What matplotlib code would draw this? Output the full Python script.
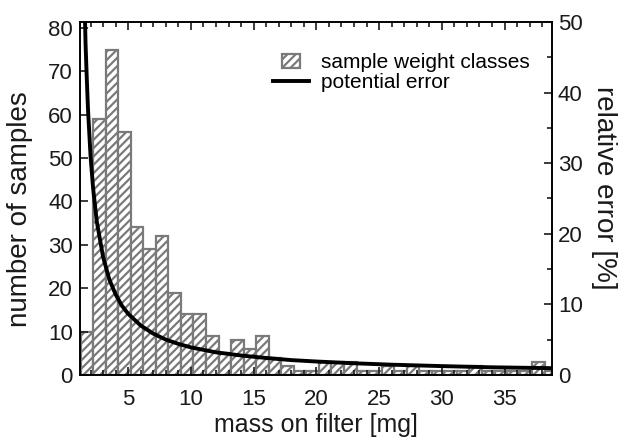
import numpy as np
import matplotlib
matplotlib.use('Agg')
import matplotlib.pyplot as plt
import matplotlib.patches as mpatches
from matplotlib.legend_handler import HandlerPatch
from matplotlib.ticker import MultipleLocator

plt.rcParams['font.family'] = ['Liberation Sans', 'DejaVu Sans']
plt.rcParams['hatch.linewidth'] = 1.6

# weight classes (left edge of each 1 mg class) and counts
class_left = np.arange(1.2, 39.2, 1.0)
counts = [10, 59, 75, 56, 34, 29, 32, 19, 14, 14,
          9, 5, 8, 6, 9, 4, 2, 1, 1, 3,
          3, 3, 1, 1, 2, 1, 2, 1, 1, 1,
          1, 2, 1, 1, 1, 1, 3, 1]

# potential error curve
err_mass = [1.5, 1.6, 1.7, 1.8, 2.0, 2.2, 2.5, 3.0, 3.5, 4.0, 4.5, 5, 6, 7, 8,
            9, 10, 12, 14, 16, 18, 20, 23, 26, 30, 34, 39]
err_pct = [55, 47, 42, 37.5, 31, 26.5, 21.7, 16.7, 13.5, 11.4, 9.8, 8.65, 7.0,
           5.85, 5.0, 4.4, 3.9, 3.2, 2.75, 2.4, 2.1, 1.9, 1.65, 1.45, 1.25,
           1.08, 0.95]

bar_grey = '#7a7a7a'
txt = '#1a1a1a'

fig = plt.figure(figsize=(6.29, 4.38), dpi=100)
ax = fig.add_axes([0.127, 0.144, 0.751, 0.806])

bars = ax.bar(class_left, counts, width=1.0, align='edge', facecolor='white',
              edgecolor=bar_grey, hatch='////', linewidth=1.6,
              label='sample weight classes')
ax.set_xlim(1.15, 38.8)
ax.set_ylim(0, 81.4)
ax.xaxis.set_major_locator(MultipleLocator(5))
ax.xaxis.set_minor_locator(MultipleLocator(1))
ax.yaxis.set_major_locator(MultipleLocator(10))
ax.tick_params(which='both', direction='in', top=True, right=False,
               labelsize=16, colors=txt, width=1.2)
ax.tick_params(which='major', length=6)
ax.tick_params(which='minor', length=3.5)
ax.tick_params(axis='x', pad=10)
ax.tick_params(axis='y', pad=5)
ax.set_xlabel('mass on filter [mg]', fontsize=18, color=txt, labelpad=2)
ax.set_ylabel('number of samples', fontsize=20, color=txt, va='center')
ax.yaxis.set_label_coords(-0.126, 0.47)

ax2 = ax.twinx()
line, = ax2.plot(err_mass, err_pct, color='black', lw=2.8,
                 label='potential error')
ax2.set_ylim(0, 50)
ax2.yaxis.set_major_locator(MultipleLocator(10))
ax2.yaxis.set_minor_locator(MultipleLocator(5))
ax2.tick_params(which='both', direction='in', labelsize=16, colors=txt,
                width=1.2, pad=4)
ax2.tick_params(which='major', length=6)
ax2.tick_params(which='minor', length=3.5)
ax2.set_ylabel('relative error [%]', fontsize=20, color=txt, rotation=270,
               va='center')
ax2.yaxis.set_label_coords(1.11, 0.53)

for a in (ax, ax2):
    for s in a.spines.values():
        s.set_linewidth(1.2)


def small_box(legend, orig_handle, xdescent, ydescent, width, height, fontsize):
    return mpatches.Rectangle((-xdescent + width * 0.26, -ydescent),
                              width * 0.48, height)


leg_patch = mpatches.Rectangle((0, 0), 1, 1, facecolor='white',
                               edgecolor=bar_grey, hatch='////', linewidth=1.6)
ax2.legend([leg_patch, line], ['sample weight classes', 'potential error'],
           handler_map={leg_patch: HandlerPatch(patch_func=small_box)},
           loc='upper left', bbox_to_anchor=(0.391, 0.935), frameon=False,
           fontsize=15, handlelength=1.75, handletextpad=0.55,
           labelspacing=0.05, borderaxespad=0)

fig.savefig('out.png', dpi=100)
